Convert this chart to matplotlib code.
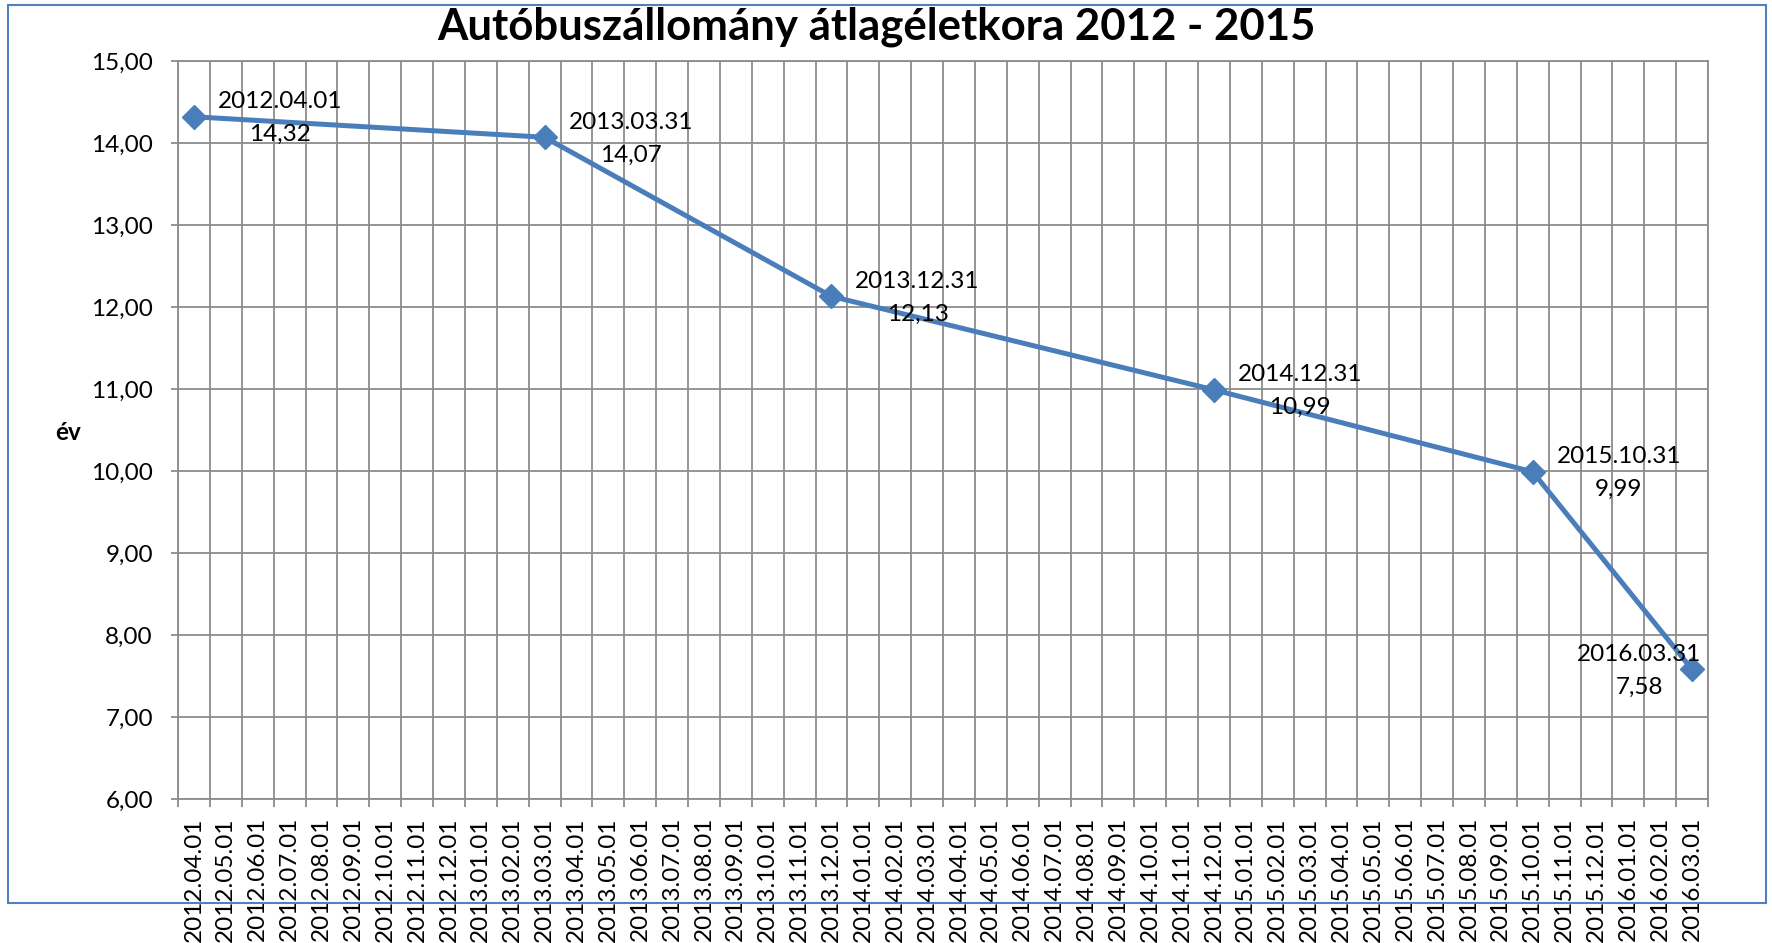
import matplotlib
matplotlib.use("Agg")
import matplotlib.pyplot as plt
import pandas as pd
from matplotlib.patches import Rectangle
from matplotlib.ticker import FixedLocator, FuncFormatter

plt.rcParams['font.family'] = ['Lato', 'DejaVu Sans']

# data
title = "Autóbuszállomány átlagéletkora 2012 - 2015"
ylabel = "év"
point_dates = ["2012.04.01", "2013.03.31", "2013.12.31", "2014.12.31", "2015.10.31", "2016.03.31"]
point_values = [14.32, 14.07, 12.13, 10.99, 9.99, 7.58]
month_labels = list(pd.date_range("2012-04-01", "2016-03-01", freq="MS").strftime("%Y.%m.%d"))

# each point sits on the category of its month (Excel month base unit)
month_keys = [m[:7] for m in month_labels]
point_x = [month_keys.index(d[:7]) for d in point_dates]

blue = "#4A7EBB"
grid_col = "#8C8C8C"
fs = 17.5

fig = plt.figure(figsize=(17.72, 9.43), dpi=100)
ax = fig.add_axes([178 / 1772, 1 - 799 / 943, (1708 - 178) / 1772, (799 - 61) / 943])

ax.plot(point_x, point_values, color=blue, lw=3.6, marker="D", markersize=12,
        markerfacecolor=blue, markeredgecolor=blue, zorder=3, clip_on=False)

for i, (x, y, d) in enumerate(zip(point_x, point_values, point_dates)):
    txt = d + "\n" + ("%.2f" % y).replace(".", ",")
    dx = -38 if i == len(point_x) - 1 else 62
    ax.annotate(txt, (x, y), xytext=(dx, -1), textcoords="offset points",
                ha="center", va="center", multialignment="center",
                fontsize=fs, linespacing=1.72, zorder=4)

n = len(month_labels)
ax.set_xlim(-0.5, n - 0.5)
ax.set_ylim(6, 15)

# category labels in the middle, grid on the category boundaries
ax.set_xticks(range(n))
ax.set_xticklabels(month_labels, rotation=90, fontsize=fs)
ax.xaxis.set_minor_locator(FixedLocator([k - 0.5 for k in range(n + 1)]))
ax.tick_params(axis="x", which="major", length=0, pad=13)
ax.tick_params(axis="x", which="minor", length=6, width=1.3, color=grid_col, direction="out")
ax.grid(True, axis="x", which="minor", color=grid_col, lw=1.3)

ax.set_yticks(range(6, 16))
ax.yaxis.set_major_formatter(FuncFormatter(lambda v, p: ("%.2f" % v).replace(".", ",")))
ax.tick_params(axis="y", length=5, width=1.3, color=grid_col, labelsize=fs, pad=13)
ax.grid(True, axis="y", which="major", color=grid_col, lw=1.3)
ax.set_axisbelow(True)

for side in ["top", "right", "bottom", "left"]:
    ax.spines[side].set_color(grid_col)
    ax.spines[side].set_linewidth(1.3)

fig.text(876 / 1772, 1 - 27 / 943, title, ha="center", va="center",
         fontsize=31.5, fontweight="bold")
fig.text(68 / 1772, 1 - 433 / 943, ylabel, ha="center", va="center",
         fontsize=fs, fontweight="bold")

# chart border
fig.patches.append(Rectangle((8 / 1772, 1 - 903 / 943), (1766 - 8) / 1772, (903 - 5) / 943,
                             transform=fig.transFigure, fill=False,
                             edgecolor="#4F81BD", lw=1.5, zorder=0))

fig.savefig("out.png", dpi=100)
